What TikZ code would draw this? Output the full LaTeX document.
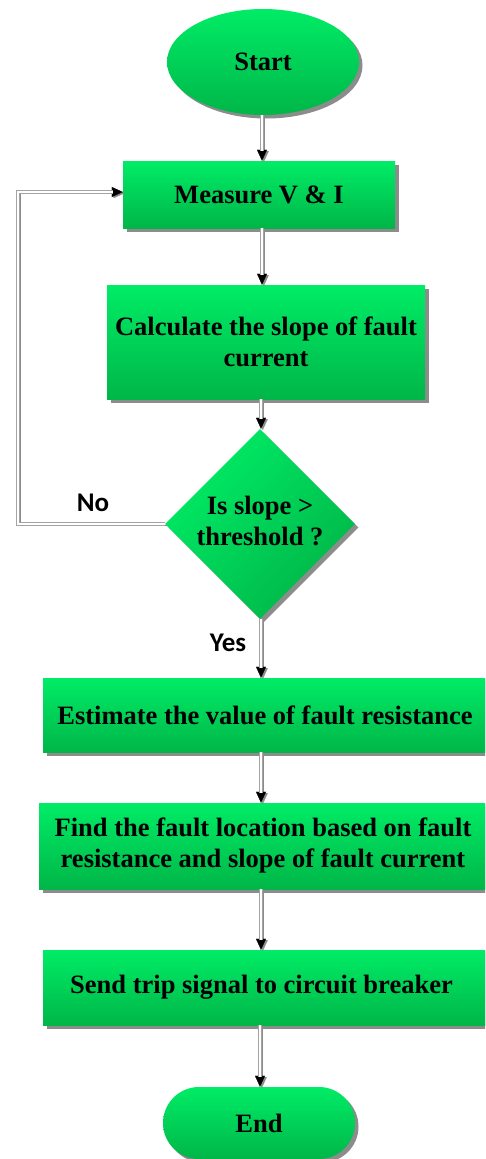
\documentclass[tikz,border=0pt]{standalone}
\usepackage{fontspec}
\setmainfont{Liberation Serif}
\newfontfamily\labelfont{Carlito}
\usetikzlibrary{shapes.geometric,shadows,arrows.meta}
\definecolor{gtop}{RGB}{0,236,102}
\definecolor{gbot}{RGB}{0,182,72}
\definecolor{shade}{RGB}{140,140,140}
\tikzset{
  x=1pt, y=-1pt,
  boxfont/.style={font=\fontsize{26.5}{31}\selectfont\bfseries, align=center, text=black},
  flowshadow/.style={drop shadow={shadow xshift=3.5pt, shadow yshift=-3.5pt, fill=shade, opacity=1}},
  procbox/.style={boxfont, flowshadow, rectangle, top color=gtop, bottom color=gbot, draw=none, inner sep=0pt},
  termbox/.style={procbox},
  decbox/.style={boxfont, flowshadow, diamond, aspect=1, inner sep=0pt, minimum size=190pt,
    top color=gtop, bottom color=gbot, shading angle=45, draw=none},
  tag/.style={font=\labelfont\fontsize{27}{30}\selectfont\bfseries, text=black},
  tiplayer/.style={draw=black, line width=0.2pt, -{Triangle[length=11pt, width=10pt]}},
  tipshadow/.style={draw=shade, line width=0.2pt, -{Triangle[length=11pt, width=10pt]},
    transform canvas={shift={(1.8pt,-1.2pt)}}},
  pipe/.style={draw=shade!80, line width=3.2pt, shorten >=10pt},
  pipecore/.style={draw=white, line width=1.4pt, shorten >=10pt},
}
\newcommand{\flowlink}[2]{%
  \draw[tipshadow] #1 -- #2;
  \draw[tiplayer] #1 -- #2;
  \draw[pipe] #1 -- #2;
  \draw[pipecore] #1 -- #2;}
\begin{document}
\begin{tikzpicture}
\useasboundingbox (0,0) rectangle (485,1159);
\begin{scope}
\clip (0,0) rectangle (485,1159);
% terminals, steps and the decision
\node[procbox, ellipse, minimum width=192pt, minimum height=106pt] (start) at (263,62) {Start};
\node[procbox, minimum width=272pt, minimum height=67pt] (measure) at (259,194.5) {Measure V \& I};
\node[procbox, minimum width=318pt, minimum height=114pt] (slope) at (266,342) {Calculate the slope of fault\\current};
\node[decbox] (check) at (260,524) {\raisebox{3pt}{\begin{tabular}{@{}c@{}}Is slope >\\threshold ?\end{tabular}}};
\node[procbox, minimum width=450pt, minimum height=74pt] (estimate) at (268,715) {\hspace*{-6pt}Estimate the value of fault resistance};
\node[procbox, minimum width=454pt, minimum height=86pt] (locate) at (266,846) {\hspace*{-6pt}\begin{tabular}{@{}c@{}}Find the fault location based on fault\\resistance and slope of fault current\end{tabular}};
\node[procbox, minimum width=450pt, minimum height=75pt] (trip) at (268,987.5) {\hspace*{-13pt}Send trip signal to circuit breaker};
\node[termbox, minimum width=192pt, minimum height=72pt, rounded corners=36pt] (stop) at (259,1123) {End};

% connectors
\coordinate (sB) at (start.south -| 262,0);
\coordinate (mT) at (measure.north -| 262,0);
\coordinate (mB) at (measure.south -| 262,0);
\coordinate (cT) at (slope.north -| 262,0);
\coordinate (cB) at (slope.south -| 261,0);
\coordinate (dT) at (check.north -| 261,0);
\coordinate (dB) at (check.south -| 261,0);
\coordinate (eT) at (estimate.north -| 261,0);
\coordinate (eB) at (estimate.south -| 261,0);
\coordinate (fT) at (locate.north -| 261,0);
\coordinate (fB) at (locate.south -| 261,0);
\coordinate (tT) at (trip.north -| 261,0);
\coordinate (tB) at (trip.south -| 260,0);
\coordinate (xT) at (stop.north -| 260,0);
\flowlink{(sB)}{(mT)}
\flowlink{(mB)}{(cT)}
\flowlink{(cB)}{(dT)}
\flowlink{(dB)}{(eT)}
\flowlink{(eB)}{(fT)}
\flowlink{(fB)}{(tT)}
\flowlink{(tB)}{(xT)}

% loop back on "No"
\coordinate (loopL) at (18,0);
\coordinate (mL) at (measure.west |- 0,192);
\draw[tipshadow] (check.west) -| (loopL |- mL) -- (mL);
\draw[tiplayer] (check.west) -| (loopL |- mL) -- (mL);
\draw[pipe] (check.west) -| (loopL |- mL) -- (mL);
\draw[pipecore] (check.west) -| (loopL |- mL) -- (mL);

\node[tag] (no) at (93,503) {No};
\node[tag] (yes) at (228,643) {Yes};
\end{scope}
\end{tikzpicture}
\end{document}
